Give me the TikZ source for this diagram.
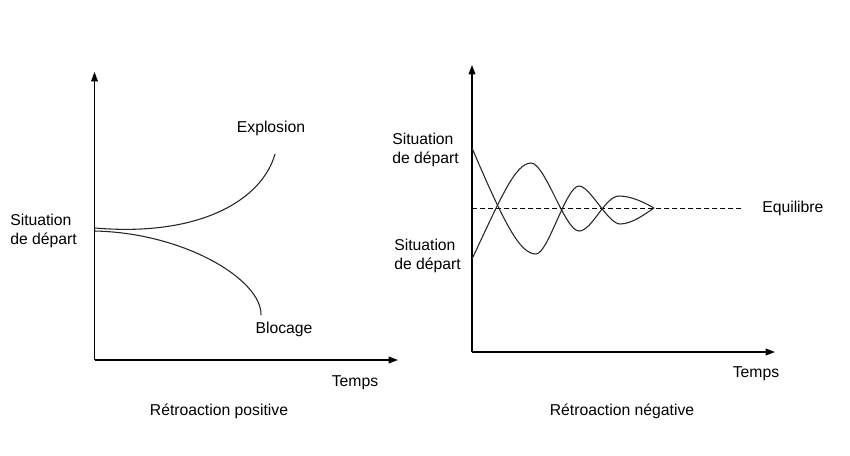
\documentclass[tikz,border=0pt]{standalone}
\usepackage{fontspec}
\setmainfont{Liberation Sans}
\usetikzlibrary{arrows.meta}
\begin{document}
\begin{tikzpicture}[x=0.75pt,y=-0.75pt,
  axis/.style={line width=0.8pt,-{Triangle[length=7pt,width=5pt]}},
  curve/.style={line width=0.8pt,draw=black!85},
  lbl/.style={inner sep=0pt,font=\fontsize{11.8}{14.3}\selectfont,align=left},
  every node/.style={text=black}]
\useasboundingbox[fill=white] (0,0) rectangle (850,455);
% ---------- left plot ----------
\coordinate (Lo) at (94.5,360);
\coordinate (Ly) at (94.5,72);
\coordinate (Lx) at (398,360);
\draw[axis] (Lo) -- (Ly);
\draw[axis] (Lo) -- (Lx);
\coordinate (E0) at (95,228);
\coordinate (E1) at (275,154);
\coordinate (B0) at (95,231);
\coordinate (B1) at (261,315);
\draw[curve] (E0) .. controls (200,237) and (262,200) .. (E1);
\draw[curve] (B0) .. controls (185,233) and (262,280) .. (B1);
\node[lbl] (explosion) at (271,128) {Explosion};
\node[lbl] (blocage) at (284,329) {Blocage};
\node[lbl,anchor=west] (sitL) at (10,231) {Situation\\de départ};
\node[lbl] (tempsL) at (355,383) {Temps};
\node[lbl] (titreL) at (219,411) {Rétroaction positive};
% ---------- right plot ----------
\coordinate (Ro) at (472,352);
\coordinate (Ry) at (472,65);
\coordinate (Rx) at (775,352);
\draw[axis] (Ro) -- (Ry);
\draw[axis] (Ro) -- (Rx);
\coordinate (Q0) at (472,208);
\coordinate (Q1) at (743,208);
\draw[line width=0.6pt,dash pattern=on 3.5pt off 2.5pt] (Q0) -- (Q1);
\coordinate (A0) at (472,148);
\coordinate (C0) at (472,259);
\coordinate (F) at (654,208);
\draw[curve] (A0) .. controls (505,225) and (520,254) .. (536,254)
  .. controls (548,254) and (566,186) .. (579,186)
  .. controls (590,186) and (608,224) .. (620,224)
  .. controls (632,224) and (645,214) .. (F);
\draw[curve] (C0) .. controls (500,200) and (515,163) .. (531,163)
  .. controls (545,163) and (565,231) .. (579,231)
  .. controls (592,231) and (605,196) .. (619,196)
  .. controls (632,196) and (645,203) .. (F);
\node[lbl,anchor=west] (equil) at (762,208) {Equilibre};
\node[lbl,anchor=west] (sitR1) at (392,150) {Situation\\de départ};
\node[lbl,anchor=west] (sitR2) at (394,256) {Situation\\de départ};
\node[lbl] (tempsR) at (756,374) {Temps};
\node[lbl] (titreR) at (622,411) {Rétroaction négative};
\end{tikzpicture}
\end{document}
